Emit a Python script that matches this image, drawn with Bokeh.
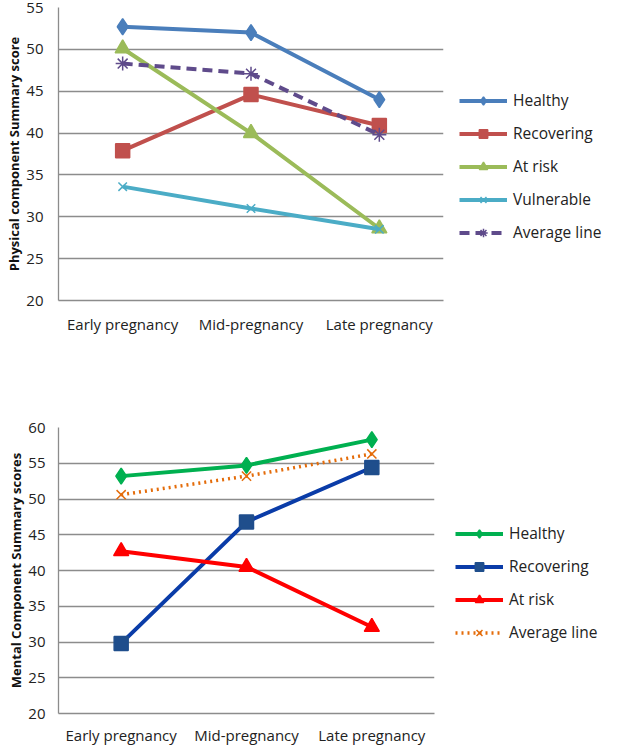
from bokeh.plotting import figure
from bokeh.layouts import column
from bokeh.models import FixedTicker, Legend, LegendItem
from bokeh.embed import file_html
from bokeh.resources import INLINE

stages = ["Early pregnancy", "Mid-pregnancy", "Late pregnancy"]

# Physical component summary scores
pcs_healthy = [52.7, 52.0, 44.0]
pcs_recovering = [37.9, 44.6, 40.9]
pcs_at_risk = [50.1, 40.0, 28.6]
pcs_vulnerable = [33.6, 31.0, 28.5]
pcs_average = [48.3, 47.1, 39.8]
pcs_ticks = [20, 25, 30, 35, 40, 45, 50, 55]

# Mental component summary scores
mcs_healthy = [53.2, 54.7, 58.3]
mcs_recovering = [29.8, 46.8, 54.4]
mcs_at_risk = [42.7, 40.5, 32.1]
mcs_average = [50.6, 53.2, 56.3]
mcs_ticks = [20, 25, 30, 35, 40, 45, 50, 55, 60]

FONT = "Open Sans"
GRID = "#8c8c8c"


def base_fig(fw, fh, ymin, ymax, ticks, ylabel, bl, bt, bb, xstand, ystand):
    p = figure(x_range=stages, y_range=(ymin, ymax), frame_width=fw, frame_height=fh,
               output_backend="svg", toolbar_location=None,
               min_border_left=bl, min_border_right=0,
               min_border_top=bt, min_border_bottom=bb)
    p.outline_line_color = None
    p.xgrid.grid_line_color = None
    p.ygrid.grid_line_color = GRID
    p.ygrid.grid_line_width = 1.3
    p.yaxis.ticker = FixedTicker(ticks=ticks)
    for ax in (p.xaxis[0], p.yaxis[0]):
        ax.axis_line_color = GRID
        ax.axis_line_width = 1.3
        ax.major_tick_line_color = None
        ax.minor_tick_line_color = None
        ax.major_tick_out = 0
        ax.major_tick_in = 0
        ax.minor_tick_out = 0
        ax.major_label_text_font = FONT
        ax.major_label_text_font_size = "15px"
        ax.major_label_text_color = "#222222"
    p.xaxis.major_label_standoff = xstand
    p.yaxis.major_label_standoff = ystand
    p.yaxis.axis_label = ylabel
    p.yaxis.axis_label_text_font = FONT
    p.yaxis.axis_label_text_font_size = "13px"
    p.yaxis.axis_label_text_font_style = "bold"
    p.yaxis.axis_label_text_color = "#111111"
    p.yaxis.axis_label_standoff = 0
    return p


def series(p, ys, color, marker, msize, mfill, dash="solid", lw=4, mline=None):
    r = p.line(stages, ys, line_color=color, line_width=lw, line_dash=dash)
    m = p.scatter(stages, ys, marker=marker, size=msize, fill_color=mfill,
                  line_color=mline if mline else mfill, line_width=1.5)
    return [r, m]


def make_legend(items, m, title_gap):
    return Legend(items=items, location="top_left", glyph_width=48, glyph_height=21,
                  label_height=21, spacing=11, label_standoff=6, padding=0, margin=m,
                  border_line_color=None, background_fill_alpha=0,
                  title=" ", title_text_font_size="10px", title_standoff=title_gap,
                  label_text_font=FONT, label_text_font_size="15.5px",
                  label_text_color="#222222")


# ---------------- top chart ----------------
p1 = base_fig(385, 293, 20, 55, pcs_ticks, "Physical component Summary score", 58, 7, 40, 13, 15)
items1 = [
    LegendItem(label="Healthy", renderers=series(p1, pcs_healthy, "#4A7EBB", "diamond", 16, "#4A7EBB")),
    LegendItem(label="Recovering", renderers=series(p1, pcs_recovering, "#C0504D", "square", 14, "#C0504D")),
    LegendItem(label="At risk", renderers=series(p1, pcs_at_risk, "#9BBB59", "triangle", 15, "#9BBB59")),
    LegendItem(label="Vulnerable", renderers=series(p1, pcs_vulnerable, "#4BACC6", "x", 12, "#4BACC6", mline="#4BACC6")),
    LegendItem(label="Average line", renderers=series(p1, pcs_average, "#5F4B8B", "asterisk", 14, "#5F4B8B", dash="10 6", mline="#5F4B8B")),
]
p1.add_layout(make_legend(items1, 16, 55), "right")

# ---------------- bottom chart ----------------
p2 = base_fig(376, 286, 20, 60, mcs_ticks, "Mental Component Summary scores", 56, 87, 32, 11, 13)
items2 = [
    LegendItem(label="Healthy", renderers=series(p2, mcs_healthy, "#00B050", "diamond", 16, "#00B050")),
    LegendItem(label="Recovering", renderers=series(p2, mcs_recovering, "#0A3CA8", "square", 14, "#1F4E8C")),
    LegendItem(label="At risk", renderers=series(p2, mcs_at_risk, "#FF0000", "triangle", 15, "#FF0000")),
    LegendItem(label="Average line", renderers=series(p2, mcs_average, "#E46C0A", "x", 13, "#E46C0A", dash="2 4", lw=3.5, mline="#E46C0A")),
]
p2.add_layout(make_legend(items2, 21, 63), "right")

layout = column(p1, p2, spacing=0)
open("out.html", "w").write(file_html(layout, INLINE))
